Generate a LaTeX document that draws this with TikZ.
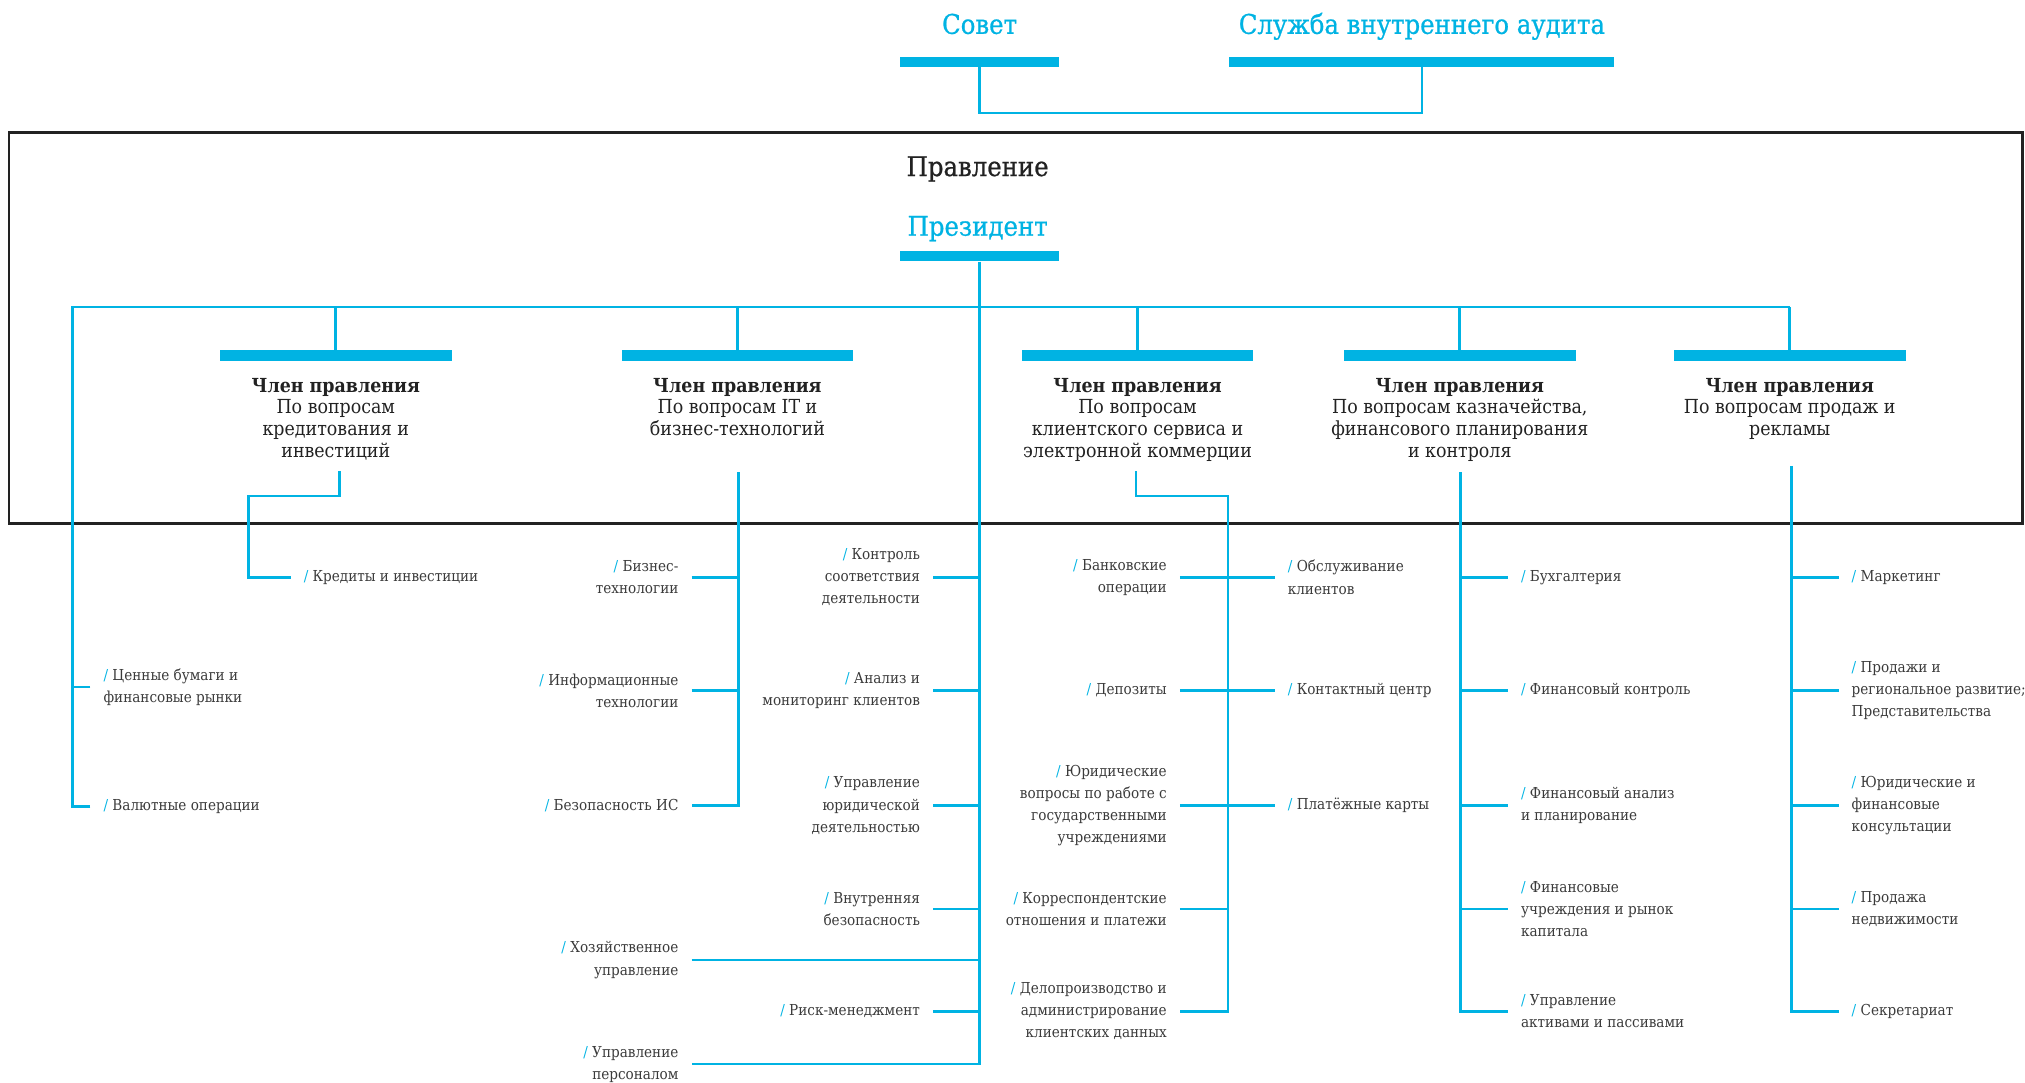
\documentclass[tikz,border=0pt]{standalone}
\usepackage{fontspec}
\setmainfont{DejaVu Serif Condensed}[BoldFont={DejaVu Serif Condensed Bold}]
\newfontfamily\headfont{DejaVu Serif Condensed}[FakeBold=0.8]
\usetikzlibrary{positioning}

\definecolor{brand}{HTML}{00B3E3}
\definecolor{ink}{HTML}{222222}
\definecolor{txt}{HTML}{3A3A3A}
\newcommand{\cyanslash}{\textcolor{brand}{/}\ }

\tikzset{
  link/.style={draw=brand, line width=2pt},
  bar/.style={fill=brand, inner sep=0pt, minimum height=8pt},
  frame/.style={draw=ink, line width=2.2pt, inner sep=0pt},
  head/.style={text=brand, inner sep=0pt, anchor=base, font=\headfont\fontsize{21}{24}\selectfont},
  member/.style={align=center, text=ink, inner sep=0pt, font=\fontsize{15}{17}\selectfont},
  unitL/.style={anchor=east, align=right, text=txt, inner sep=0pt, inner xsep=10pt, font=\fontsize{11.7}{17.2}\selectfont},
  unitR/.style={unitL, anchor=west, align=left},
}

\begin{document}
\begin{tikzpicture}[x=1pt,y=-1pt]
\useasboundingbox (0,0) rectangle (1568,838);

% Совет и аудит
\node[bar, minimum width=123pt] (sovetbar) at (758.5,47.8) {};
\node[head] (sovet) at (758.5,26.2) {Совет};
\node[bar, minimum width=298pt] (auditbar) at (1101,47.8) {};
\node[head] (audit) at (1101,26.2) {Служба внутреннего аудита};
\draw[link] (sovetbar.south) -- ++(0,35.6) -| (auditbar.south);

% Правление
\node[frame, minimum width=1559pt, minimum height=303.3pt] (board) at (786.5,254) {};
\node[head, text=ink] (title) at (757,136.3) {Правление};
\node[head] (pres) at (757,182.5) {Президент};
\node[bar, minimum width=123pt] (presbar) at (758.5,198.4) {};

\coordinate (spine) at (56,237.8);
\foreach \i/\x in {1/260,2/571,3/880.8,4/1130.3,5/1385.8}{
  \node[bar, minimum width=179.5pt] (bar\i) at (\x,275.2) {};
  \draw[link] (bar\i.north) -- (bar\i.north |- spine);
}
\node[member, below=13pt of bar1] (member1) {\textbf{Член правления}\\По вопросам\\кредитования и\\инвестиций};
\node[member, below=13pt of bar2] (member2) {\textbf{Член правления}\\По вопросам IT и\\бизнес-технологий};
\node[member, below=13pt of bar3] (member3) {\textbf{Член правления}\\По вопросам\\клиентского сервиса и\\электронной коммерции};
\node[member, below=13pt of bar4] (member4) {\textbf{Член правления}\\По вопросам казначейства,\\финансового планирования\\и контроля};
\node[member, below=13pt of bar5] (member5) {\textbf{Член правления}\\По вопросам продаж и\\рекламы};

% подразделения без члена правления
\node[unitR] (sec) at (70,532) {\cyanslash Ценные бумаги и\\финансовые рынки};
\node[unitR] (fx) at (70,624.5) {\cyanslash Валютные операции};
\draw[link] (fx.west) -| (spine) -- (spine -| bar5);
\draw[link] (sec.west) -- (sec.west -| spine);

% кредитование
\coordinate (m1top) at (263,364.7);
\coordinate (m1turn) at (192.5,384.2);
\node[unitR] (credit) at (225,447) {\cyanslash Кредиты и инвестиции};
\draw[link] (m1top) |- (m1turn) |- (credit.west);

% IT
\coordinate (m2top) at (572,365.5);
\node[unitL] (bt) at (535.5,447) {\cyanslash Бизнес-\\технологии};
\node[unitL] (it) at (535.5,534.7) {\cyanslash Информационные\\технологии};
\node[unitL] (iss) at (535.5,623.8) {\cyanslash Безопасность ИС};
\draw[link] (m2top) |- (iss.east);
\foreach \n in {bt,it}
  \draw[link] (\n.east) -- (\n.east -| m2top);

% президент
\node[unitL] (comp) at (722.5,447) {\cyanslash Контроль\\соответствия\\деятельности};
\node[unitL] (mon) at (722.5,534.7) {\cyanslash Анализ и\\мониторинг клиентов};
\node[unitL] (legal) at (722.5,623.8) {\cyanslash Управление\\юридической\\деятельностью};
\node[unitL] (guard) at (722.5,704) {\cyanslash Внутренняя\\безопасность};
\node[unitL] (risk) at (722.5,783) {\cyanslash Риск-менеджмент};
\node[unitL] (admin) at (535.5,743.4) {\cyanslash Хозяйственное\\управление};
\node[unitL] (hr) at (535.5,824) {\cyanslash Управление\\персоналом};
\draw[link] (presbar.south) |- (hr.east);
\foreach \n in {comp,mon,legal,guard,risk,admin}
  \draw[link] (\n.east) -- (\n.east -| presbar);

% клиентский сервис
\coordinate (m3top) at (879.6,364.7);
\coordinate (m3turn) at (951,384.2);
\node[unitL] (bank) at (913.6,447) {\cyanslash Банковские\\операции};
\node[unitL] (dep) at (913.6,534.7) {\cyanslash Депозиты};
\node[unitL] (gov) at (913.6,623.8) {\cyanslash Юридические\\вопросы по работе с\\государственными\\учреждениями};
\node[unitL] (corr) at (913.6,704) {\cyanslash Корреспондентские\\отношения и платежи};
\node[unitL] (docs) at (913.6,783) {\cyanslash Делопроизводство и\\администрирование\\клиентских данных};
\node[unitR] (serv) at (987,447) {\cyanslash Обслуживание\\клиентов};
\node[unitR] (call) at (987,534.7) {\cyanslash Контактный центр};
\node[unitR] (cards) at (987,623.8) {\cyanslash Платёжные карты};
\draw[link] (m3top) |- (m3turn) |- (docs.east);
\foreach \n in {bank,dep,gov,corr}
  \draw[link] (\n.east) -- (\n.east -| m3turn);
\foreach \n in {serv,call,cards}
  \draw[link] (\n.west) -- (\n.west -| m3turn);

% казначейство
\coordinate (m4top) at (1131,365.5);
\node[unitR] (acc) at (1167.6,447) {\cyanslash Бухгалтерия};
\node[unitR] (fc) at (1167.6,534.7) {\cyanslash Финансовый контроль};
\node[unitR] (fa) at (1167.6,623.8) {\cyanslash Финансовый анализ\\и планирование};
\node[unitR] (fi) at (1167.6,704) {\cyanslash Финансовые\\учреждения и рынок\\капитала};
\node[unitR] (alm) at (1167.6,783) {\cyanslash Управление\\активами и пассивами};
\draw[link] (m4top) |- (alm.west);
\foreach \n in {acc,fc,fa,fi}
  \draw[link] (\n.west) -- (\n.west -| m4top);

% продажи
\coordinate (m5top) at (1387,360.7);
\node[unitR] (mkt) at (1423.6,447) {\cyanslash Маркетинг};
\node[unitR] (sales) at (1423.6,534.7) {\cyanslash Продажи и\\региональное развитие;\\Представительства};
\node[unitR] (cons) at (1423.6,623.8) {\cyanslash Юридические и\\финансовые\\консультации};
\node[unitR] (estate) at (1423.6,704) {\cyanslash Продажа\\недвижимости};
\node[unitR] (secr) at (1423.6,783) {\cyanslash Секретариат};
\draw[link] (m5top) |- (secr.west);
\foreach \n in {mkt,sales,cons,estate}
  \draw[link] (\n.west) -- (\n.west -| m5top);
\end{tikzpicture}
\end{document}
